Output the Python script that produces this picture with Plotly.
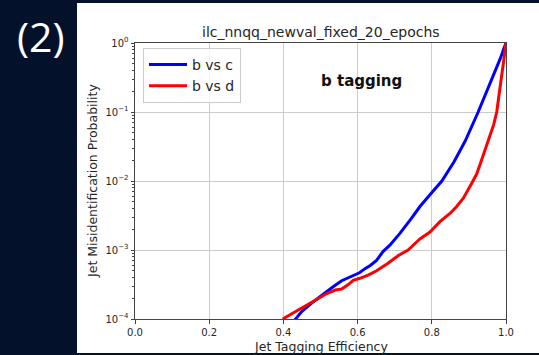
import plotly.graph_objects as go

# ---- data ----
bvc_eff = [0.425, 0.45, 0.481, 0.50, 0.517, 0.535, 0.557, 0.575, 0.593, 0.605,
           0.62, 0.635, 0.651, 0.669, 0.687, 0.714, 0.745, 0.768, 0.795, 0.827,
           0.86, 0.89, 0.925, 0.95, 0.97, 0.985, 0.995, 1.0]
bvc_misid = [8.9e-5, 1.29e-4, 1.78e-4, 2.14e-4, 2.51e-4, 2.95e-4, 3.59e-4, 3.98e-4, 4.37e-4, 4.68e-4,
             5.37e-4, 6.03e-4, 7.08e-4, 9.55e-4, 1.175e-3, 1.74e-3, 2.88e-3, 4.27e-3, 6.31e-3, 1.0e-2,
             1.905e-2, 3.80e-2, 0.10, 0.209, 0.380, 0.603, 0.851, 1.0]

bvd_eff = [0.398, 0.43, 0.463, 0.49, 0.517, 0.54, 0.557, 0.575, 0.588, 0.606,
           0.63, 0.651, 0.68, 0.71, 0.736, 0.768, 0.795, 0.822, 0.849, 0.867,
           0.885, 0.908, 0.921, 0.934, 0.946, 0.957, 0.967, 0.975, 0.982, 0.988,
           0.994, 0.998, 1.0]
bvd_misid = [1.0e-4, 1.26e-4, 1.58e-4, 1.95e-4, 2.34e-4, 2.63e-4, 2.72e-4, 3.16e-4, 3.63e-4, 3.89e-4,
             4.37e-4, 5.01e-4, 6.31e-4, 8.32e-4, 1.0e-3, 1.445e-3, 1.82e-3, 2.57e-3, 3.39e-3, 4.27e-3,
             5.62e-3, 9.33e-3, 1.26e-2, 2.0e-2, 3.02e-2, 4.37e-2, 6.61e-2, 0.10, 0.178, 0.316,
             0.562, 0.832, 1.0]

series_names = ["b vs c", "b vs d"]
series_colors = ["#0000ff", "#ff0000"]

x_tick_vals = [0.0, 0.2, 0.4, 0.6, 0.8, 1.0]
x_tick_text = ["0.0", "0.2", "0.4", "0.6", "0.8", "1.0"]
y_tick_vals = [1e-4, 1e-3, 1e-2, 1e-1, 1.0]
y_tick_text = ["10<sup>−4</sup>", "10<sup>−3</sup>", "10<sup>−2</sup>", "10<sup>−1</sup>", "10<sup>0</sup>"]
y_minor_vals = [m * d for d in [1e-4, 1e-3, 1e-2, 1e-1] for m in range(2, 10)]

title_text = "ilc_nnqq_newval_fixed_20_epochs"
x_title = "Jet Tagging Efficiency"
y_title = "Jet Misidentification Probability"
inset_text = "b tagging"
slide_label = "(2)"

FONT = "DejaVu Sans"
TXT = "#262626"
BG = "#04112b"

fig = go.Figure()
for name, xs, ys, col in [(series_names[0], bvc_eff, bvc_misid, series_colors[0]),
                          (series_names[1], bvd_eff, bvd_misid, series_colors[1])]:
    fig.add_trace(go.Scatter(x=xs, y=ys, mode="lines", name=name, legendgroup=name,
                             line=dict(color=col, width=3)))

# layout geometry: plot area 135..506 px (x), 43..319 px (y)
L, R, T, B = 135, 506, 43, 319
W, H = 539, 355
def px(x):
    return (x - L) / (R - L)
def py(y):
    return (B - y) / (B - T)

fig.update_layout(
    width=W, height=H,
    margin=dict(l=L, r=W - R, t=T, b=H - B, pad=0),
    paper_bgcolor=BG,
    plot_bgcolor="white",
    font=dict(family=FONT, color=TXT, size=10),
    showlegend=True,
    legend=dict(x=px(143), y=py(48), xanchor="left", yanchor="top",
                bgcolor="rgba(255,255,255,0.8)", bordercolor="#cccccc", borderwidth=1,
                font=dict(family=FONT, size=14, color=TXT), tracegroupgap=0,
                itemwidth=38),
    shapes=[dict(type="rect", xref="paper", yref="paper",
                 x0=px(77), x1=px(540), y0=py(353), y1=py(3),
                 fillcolor="white", line=dict(width=0), layer="below")],
    annotations=[
        dict(text=slide_label, xref="paper", yref="paper", x=px(40.5), y=py(36),
             xanchor="center", yanchor="middle", showarrow=False,
             font=dict(family="Open Sans", size=41, color="white")),
        dict(text=title_text, xref="paper", yref="paper", x=0.5, y=py(32),
             xanchor="center", yanchor="middle", showarrow=False,
             font=dict(family=FONT, size=14, color=TXT)),
        dict(text="<b>" + inset_text + "</b>", xref="paper", yref="paper", x=px(361.5), y=py(81),
             xanchor="center", yanchor="middle", showarrow=False,
             font=dict(family=FONT, size=15, color="#111111")),
        dict(text=x_title, xref="paper", yref="paper", x=0.5, y=py(346),
             xanchor="center", yanchor="middle", showarrow=False,
             font=dict(family=FONT, size=12.5, color=TXT)),
        dict(text=y_title, xref="paper", yref="paper", x=px(92), y=0.5,
             xanchor="center", yanchor="middle", showarrow=False, textangle=-90,
             font=dict(family=FONT, size=12.5, color=TXT)),
    ],
)

fig.update_xaxes(range=[0, 1], tickvals=x_tick_vals, ticktext=x_tick_text,
                 showgrid=True, gridcolor="#cccccc", gridwidth=1,
                 zeroline=False, showline=True, linecolor="#444444", linewidth=1, mirror=True,
                 ticks="outside", ticklen=3.5, tickcolor="#444444",
                 tickfont=dict(family=FONT, size=10, color=TXT))
fig.update_yaxes(type="log", range=[-4, 0], tickvals=y_tick_vals, ticktext=y_tick_text,
                 showgrid=True, gridcolor="#cccccc", gridwidth=1,
                 zeroline=False, showline=True, linecolor="#444444", linewidth=1, mirror=True,
                 ticks="outside", ticklen=3.5, tickcolor="#444444",
                 tickfont=dict(family=FONT, size=10, color=TXT),
                 minor=dict(tickvals=y_minor_vals, ticks="outside", ticklen=2,
                            tickcolor="#444444", showgrid=False))

fig.write_html(
    "out.html",
    config={"displayModeBar": False},
    post_script=("document.body.style.margin='0';document.body.style.padding='0';"
                 "document.body.style.overflow='hidden';document.body.style.background='" + BG + "';"),
)
